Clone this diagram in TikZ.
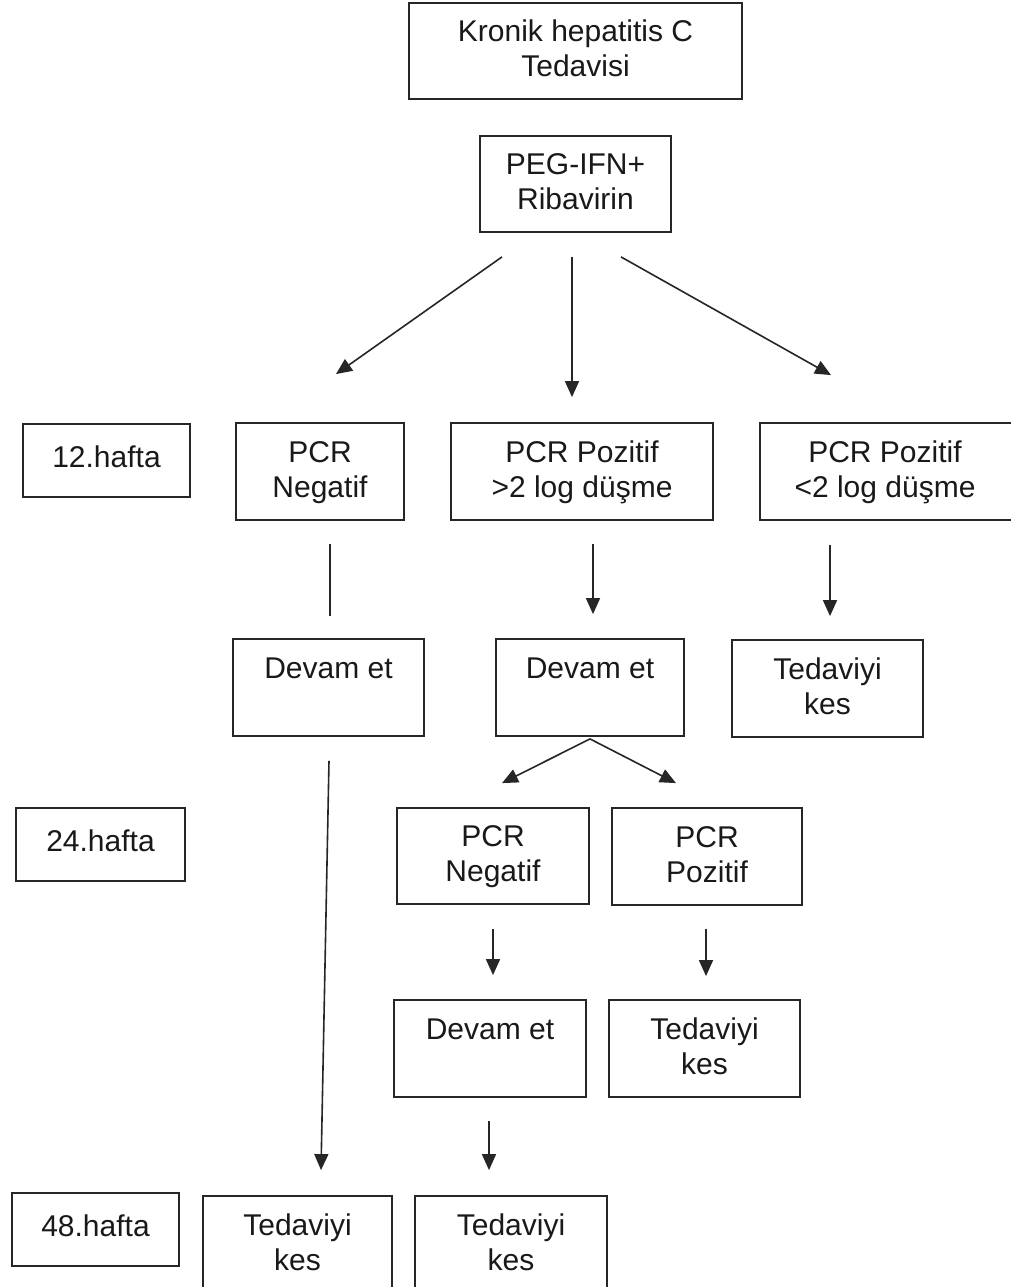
\documentclass[tikz,border=0pt]{standalone}
\usepackage{fontspec}
\setmainfont{Liberation Sans}
\usetikzlibrary{arrows.meta}
\newcommand{\twol}[2]{\rule{0pt}{27pt}#1\\\strut #2}
\newcommand{\onel}[1]{\rule{0pt}{27pt}#1\\\strut}
\begin{document}
\begin{tikzpicture}[x=1pt,y=-1pt,
  box/.style={draw=black!85, line width=1.8pt, align=center, inner sep=0pt,
    font=\fontsize{30}{35}\selectfont, text=black!90},
  wk/.style={box, minimum width=#1, minimum height=73pt},
  bx/.style={box, minimum width=#1, minimum height=97pt},
  arr/.style={draw=black!85, line width=1.6pt, -{Triangle[length=16pt,width=14pt]}},
  plainline/.style={draw=black!85, line width=1.6pt}]
\clip (0,0) rectangle (1011,1287);
\fill[white] (0,0) rectangle (1011,1287);
% boxes
\node[bx=333pt, minimum height=96pt] (kronik) at (575.5,51) {\twol{Kronik hepatitis C}{Tedavisi}};
\node[bx=191pt, minimum height=96pt] (peg) at (575.5,184) {\twol{PEG-IFN+}{Ribavirin}};
\node[wk=167pt] (h12) at (106.5,460.5) {\strut 12.hafta};
\node[bx=168pt] (neg1) at (320,471.5) {\twol{PCR}{Negatif}};
\node[bx=262pt] (pozA) at (582,471.5) {\twol{PCR Pozitif}{>2 log düşme}};
\node[bx=262pt] (pozB) at (891,471.5) {\twol{\hspace*{-12pt}PCR Pozitif}{\hspace*{-12pt}<2 log düşme}};
\node[bx=191pt] (dev1) at (328.5,687.5) {\onel{Devam et}};
\node[bx=188pt] (dev2) at (590,687.5) {\onel{Devam et}};
\node[bx=191pt] (ted1) at (827.5,688.5) {\twol{Tedaviyi}{kes}};
\node[wk=169pt] (h24) at (100.5,844.5) {\strut 24.hafta};
\node[bx=192pt, minimum height=96pt] (neg2) at (493,856) {\twol{PCR}{Negatif}};
\node[bx=190pt] (poz2) at (707,856.5) {\twol{PCR}{Pozitif}};
\node[bx=192pt] (dev3) at (490,1048.5) {\onel{Devam et}};
\node[bx=191pt] (ted2) at (704.5,1048.5) {\twol{Tedaviyi}{kes}};
\node[wk=167pt] (h48) at (95.5,1229.5) {\strut 48.hafta};
\node[bx=189pt] (ted3) at (297.5,1244.5) {\twol{Tedaviyi}{kes}};
\node[bx=192pt] (ted4) at (511,1244.5) {\twol{Tedaviyi}{kes}};
% connectors
\draw[arr] ([xshift=-73.5pt,yshift=-24pt]peg.south) -- ([xshift=16pt,yshift=48pt]neg1.north);
\draw[arr] ([xshift=-3.5pt,yshift=-24pt]peg.south) -- ([xshift=-10pt,yshift=25pt]pozA.north);
\draw[arr] ([xshift=45.5pt,yshift=-24pt]peg.south) -- ([xshift=-60pt,yshift=47pt]pozB.north);
\draw[plainline] ([xshift=10pt,yshift=-23pt]neg1.south) -- ([xshift=1.5pt,yshift=22pt]dev1.north);
\draw[arr] ([xshift=11pt,yshift=-23pt]pozA.south) -- ([xshift=3pt,yshift=24pt]dev2.north);
\draw[arr] ([xshift=-61pt,yshift=-24pt]pozB.south) -- ([xshift=2.5pt,yshift=23pt]ted1.north);
\draw[arr] ([yshift=-2pt]dev2.south) -- ([xshift=9pt,yshift=24pt]neg2.north);
\draw[arr] ([yshift=-2pt]dev2.south) -- ([xshift=-31pt,yshift=24pt]poz2.north);
\draw[arr] ([xshift=0.5pt,yshift=-24pt]dev1.south) -- ([xshift=23.5pt,yshift=25pt]ted3.north);
\draw[arr] ([yshift=-24pt]neg2.south) -- ([xshift=3pt,yshift=24pt]dev3.north);
\draw[arr] ([xshift=-1pt,yshift=-23pt]poz2.south) -- ([xshift=1.5pt,yshift=23pt]ted2.north);
\draw[arr] ([xshift=-1pt,yshift=-23pt]dev3.south) -- ([xshift=-22pt,yshift=25pt]ted4.north);
\end{tikzpicture}
\end{document}
